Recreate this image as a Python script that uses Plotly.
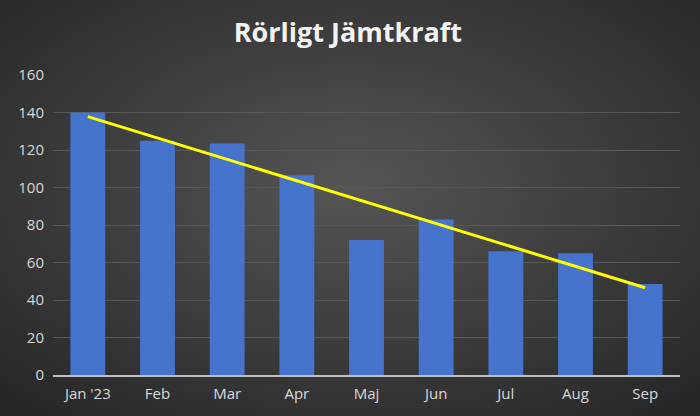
import base64

import numpy as np
import plotly.graph_objects as go


# ==========================================================
# Data
# ==========================================================

months = ["Jan '23", "Feb", "Mar", "Apr", "Maj", "Jun", "Jul", "Aug", "Sep"]
prices = [140, 125, 123.5, 106.5, 72, 83, 66, 65, 48.5]

y_ticks = [0, 20, 40, 60, 80, 100, 120, 140, 160]


# ==========================================================
# Linear trend line (Excel style)
# ==========================================================

x_idx = np.arange(len(prices))
slope, intercept = np.polyfit(x_idx, prices, 1)
trend = slope * x_idx + intercept


# ==========================================================
# Radial background (dark Excel theme)
# ==========================================================

bg_svg = (
    '<svg xmlns="http://www.w3.org/2000/svg" width="700" height="416">'
    '<defs><radialGradient id="g" cx="50%" cy="45%" r="72%">'
    '<stop offset="0%" stop-color="#555555"/>'
    '<stop offset="100%" stop-color="#262626"/>'
    '</radialGradient></defs>'
    '<rect width="700" height="416" fill="url(#g)"/></svg>'
)
bg_uri = "data:image/svg+xml;base64," + base64.b64encode(bg_svg.encode()).decode()


fig = go.Figure()

fig.add_trace(
    go.Bar(
        x=months,
        y=prices,
        marker=dict(color="#4674cc", line=dict(width=0)),
        showlegend=False,
        hoverinfo="x+y",
    )
)

fig.add_trace(
    go.Scatter(
        x=months,
        y=trend,
        mode="lines",
        line=dict(color="#ffff00", width=3),
        showlegend=False,
        hoverinfo="skip",
    )
)

fig.update_layout(
    width=700,
    height=416,
    paper_bgcolor="#3a3a3a",
    plot_bgcolor="rgba(0,0,0,0)",
    bargap=0.5,
    title=dict(
        text="<b>Rörligt Jämtkraft</b>",
        x=0.497,
        xanchor="center",
        y=0.921,
        yanchor="middle",
        font=dict(family="Open Sans", size=27, color="#f2f2f2"),
    ),
    font=dict(family="Open Sans", size=14, color="#d9d9d9"),
    margin=dict(l=53, r=20, t=75, b=41),
    images=[
        dict(
            source=bg_uri,
            xref="paper",
            yref="paper",
            x=-53 / 627,
            y=1 + 75 / 300,
            sizex=700 / 627,
            sizey=416 / 300,
            xanchor="left",
            yanchor="top",
            sizing="stretch",
            layer="below",
        )
    ],
)

fig.update_xaxes(
    showgrid=False,
    showline=True,
    linecolor="#bfbfbf",
    linewidth=2,
    ticks="",
    ticklabelstandoff=4,
    tickfont=dict(size=15, color="#d9d9d9"),
)

fig.update_yaxes(
    range=[0, 160],
    tickvals=y_ticks,
    showgrid=True,
    gridcolor="#585858",
    gridwidth=1,
    zeroline=False,
    showline=False,
    ticks="",
    ticklabelstandoff=8,
    tickfont=dict(size=15, color="#d9d9d9"),
)

fig.write_html(
    "out.html",
    config=dict(displayModeBar=False),
    post_script="document.body.style.margin='0';",
)
